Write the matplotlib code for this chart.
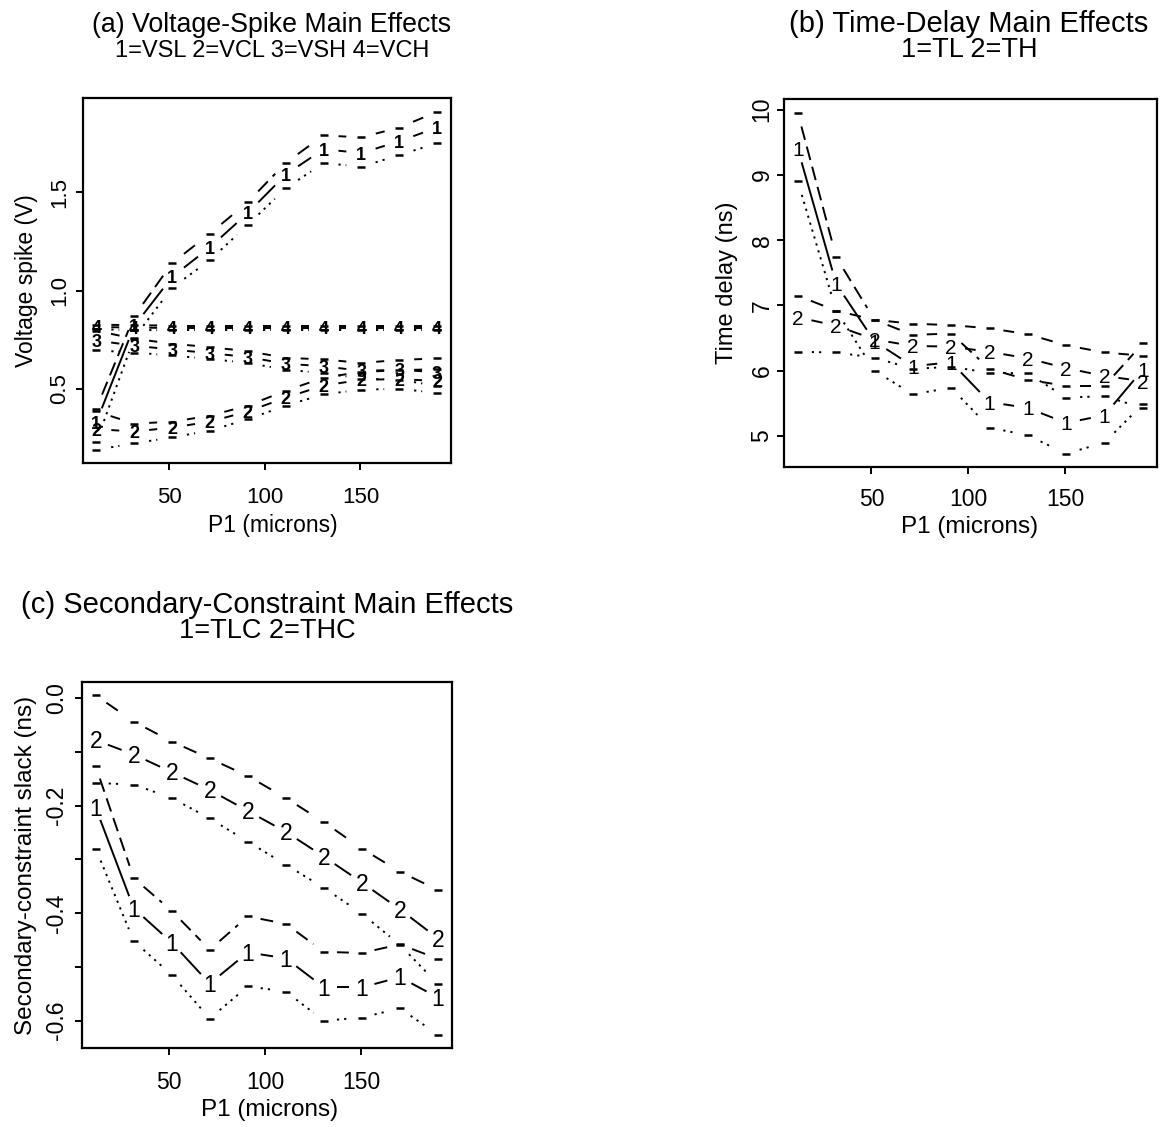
import numpy as np
import matplotlib
matplotlib.use("Agg")
import matplotlib.pyplot as plt
from matplotlib.transforms import ScaledTranslation

plt.rcParams['font.family'] = ['Liberation Sans', 'DejaVu Sans']
plt.rcParams['axes.unicode_minus'] = False
plt.rcParams['lines.scale_dashes'] = False

W, H = 1168, 1127

# P1 levels (microns)
p1 = [12, 31.8, 51.6, 71.3, 91.1, 110.9, 130.7, 150.4, 170.2, 190]

# (a) voltage spike (V): mean, upper and lower limits
vsl = [0.33, 0.82, 1.07, 1.22, 1.395, 1.59, 1.72, 1.70, 1.76, 1.83]
vsl_hi = [0.40, 0.87, 1.14, 1.29, 1.45, 1.65, 1.79, 1.78, 1.83, 1.91]
vsl_lo = [0.23, 0.76, 1.015, 1.155, 1.335, 1.52, 1.65, 1.63, 1.69, 1.75]

vcl = [0.295, 0.283, 0.303, 0.333, 0.385, 0.455, 0.517, 0.546, 0.55, 0.54]
vcl_hi = [0.385, 0.323, 0.333, 0.363, 0.415, 0.49, 0.557, 0.586, 0.595, 0.60]
vcl_lo = [0.19, 0.223, 0.253, 0.288, 0.345, 0.415, 0.472, 0.496, 0.50, 0.48]

vsh = [0.746, 0.72, 0.70, 0.682, 0.662, 0.628, 0.615, 0.592, 0.597, 0.585]
vsh_hi = [0.796, 0.755, 0.73, 0.712, 0.692, 0.658, 0.65, 0.632, 0.647, 0.655]
vsh_lo = [0.696, 0.685, 0.67, 0.652, 0.632, 0.598, 0.58, 0.552, 0.547, 0.515]

vch = [0.815, 0.812, 0.81, 0.81, 0.81, 0.81, 0.81, 0.81, 0.81, 0.81]
vch_hi = [0.827, 0.824, 0.822, 0.822, 0.822, 0.822, 0.822, 0.822, 0.822, 0.822]
vch_lo = [0.803, 0.80, 0.798, 0.798, 0.798, 0.798, 0.798, 0.798, 0.798, 0.798]

# (b) time delay (ns)
tl = [9.40, 7.33, 6.45, 6.07, 6.13, 5.52, 5.43, 5.20, 5.32, 6.02]
tl_hi = [9.95, 7.74, 6.78, 6.55, 6.57, 6.03, 5.86, 5.77, 5.77, 6.42]
tl_lo = [8.90, 6.92, 6.00, 5.64, 5.74, 5.13, 5.01, 4.73, 4.90, 5.49]

th = [6.82, 6.69, 6.48, 6.38, 6.37, 6.29, 6.19, 6.04, 5.92, 5.84]
th_hi = [7.15, 6.92, 6.78, 6.72, 6.70, 6.65, 6.56, 6.39, 6.28, 6.23]
th_lo = [6.29, 6.28, 6.20, 6.03, 6.06, 5.97, 5.96, 5.59, 5.61, 5.43]

# (c) secondary-constraint slack (ns)
tlc = [-0.204, -0.391, -0.455, -0.531, -0.473, -0.484, -0.538, -0.538, -0.519, -0.557]
tlc_hi = [-0.127, -0.335, -0.396, -0.468, -0.406, -0.42, -0.472, -0.474, -0.458, -0.485]
tlc_lo = [-0.28, -0.452, -0.515, -0.596, -0.536, -0.546, -0.60, -0.594, -0.577, -0.626]

thc = [-0.0785, -0.105, -0.138, -0.171, -0.21, -0.249, -0.295, -0.343, -0.393, -0.447]
thc_hi = [0.005, -0.044, -0.081, -0.1125, -0.145, -0.186, -0.231, -0.280, -0.323, -0.357]
thc_lo = [-0.158, -0.161, -0.186, -0.224, -0.267, -0.31, -0.353, -0.401, -0.459, -0.532]

xticks = [50, 100, 150]
a_yticks = [0.5, 1.0, 1.5]
a_ylabels = ['0.5', '1.0', '1.5']
b_yticks = [5, 6, 7, 8, 9, 10]
b_ylabels = ['5', '6', '7', '8', '9', '10']
c_yticks = [0.0, -0.1, -0.2, -0.3, -0.4, -0.5, -0.6]
c_ylabels = ['0.0', '', '-0.2', '', '-0.4', '', '-0.6']

fig = plt.figure(figsize=(W / 100, H / 100), dpi=100)

DASHED = (0, (10, 5))
DOTTED = (0, (1.6, 3.6))


def px_axes(left, top, right, bottom):
    return fig.add_axes([left / W, 1 - bottom / H, (right - left) / W, (bottom - top) / H])


def padded(*series):
    vals = np.concatenate([np.asarray(s, float) for s in series])
    lo, hi = vals.min(), vals.max()
    pad = 0.04 * (hi - lo)
    return lo - pad, hi + pad


def gapped_line(ax, x, y, gap, ls, lw=1.4):
    """Join points with segments that stop short of each point."""
    pts = ax.transData.transform(np.column_stack([x, y]))
    inv = ax.transData.inverted()
    for p, q in zip(pts[:-1], pts[1:]):
        d = np.hypot(*(q - p))
        f = gap / d
        if f < 0.5:
            a = p + f * (q - p)
            b = q - f * (q - p)
            seg = inv.transform(np.vstack([a, b]))
            ax.plot(seg[:, 0], seg[:, 1], color='black', lw=lw, linestyle=ls,
                    solid_capstyle='butt', dash_capstyle='butt')


def char_marks(ax, x, y, ch, size, weight='normal'):
    off = ScaledTranslation(0, -0.358 * size / 72, fig.dpi_scale_trans)
    for xi, yi in zip(x, y):
        ax.text(xi, yi, ch, fontsize=size, fontweight=weight, ha='center',
                va='baseline', transform=ax.transData + off, clip_on=False)


def effect(ax, mean, hi, lo, ch, size, gap, weight='normal'):
    gapped_line(ax, p1, hi, gap, DASHED)
    ax.plot(p1, hi, linestyle='none', marker='_', ms=5.4, mew=1.8, color='black')
    gapped_line(ax, p1, lo, gap, DOTTED)
    ax.plot(p1, lo, linestyle='none', marker='_', ms=5.4, mew=1.8, color='black')
    gapped_line(ax, p1, mean, gap, '-')
    char_marks(ax, p1, mean, ch, size, weight)


def frame(ax, ylim, yticks, ylabels, tsize, xpad, ypad):
    ax.set_xlim(padded(p1))
    ax.set_ylim(ylim)
    ax.set_xticks(xticks)
    ax.set_xticklabels([str(t) for t in xticks])
    ax.set_yticks(yticks)
    ax.set_yticklabels(ylabels, rotation=90, va='center')
    ax.tick_params(direction='out', length=5, width=1.4, labelsize=tsize)
    ax.tick_params(axis='x', pad=xpad)
    ax.tick_params(axis='y', pad=ypad)
    for s in ax.spines.values():
        s.set_linewidth(1.6)


def ftext(xp, yp, s, size, **kw):
    fig.text(xp / W, 1 - yp / H, s, fontsize=size, **kw)


# ---- (a) ----
axA = px_axes(82.7, 98.3, 450.7, 463.3)
frame(axA, padded(vsl_hi, vsl_lo, vcl_hi, vcl_lo, vsh_hi, vsh_lo, vch_hi, vch_lo),
      a_yticks, a_ylabels, 16, 12, 4)
for m, hi, lo, ch in [(vcl, vcl_hi, vcl_lo, '2'), (vsh, vsh_hi, vsh_lo, '3'),
                      (vch, vch_hi, vch_lo, '4'), (vsl, vsl_hi, vsl_lo, '1')]:
    effect(axA, m, hi, lo, ch, 13, 15, weight='bold')
ftext(272, 31.7, '(a) Voltage-Spike Main Effects', 19.3, ha='center', va='baseline')
ftext(272, 56.7, '1=VSL 2=VCL 3=VSH 4=VCH', 17, ha='center', va='baseline')
ftext(273, 526, 'P1 (microns)', 16.5, ha='center', va='center')
ftext(27, 281, 'Voltage spike (V)', 16.5, ha='center', va='center', rotation=90)

# ---- (b) ----
axB = px_axes(784, 99.3, 1156.7, 467.3)
frame(axB, padded(tl_hi, tl_lo, th_hi, th_lo), b_yticks, b_ylabels, 16.5, 10, 2.5)
effect(axB, th, th_hi, th_lo, '2', 15, 14)
effect(axB, tl, tl_hi, tl_lo, '1', 15, 14)
ftext(969, 32, '(b) Time-Delay Main Effects', 21, ha='center', va='baseline')
ftext(969, 57, '1=TL 2=TH', 19.5, ha='center', va='baseline')
ftext(970, 527, 'P1 (microns)', 17.5, ha='center', va='center')
ftext(727, 283, 'Time delay (ns)', 17, ha='center', va='center', rotation=90)

# ---- (c) ----
axC = px_axes(82, 681.7, 451.7, 1048.3)
frame(axC, padded(tlc_hi, tlc_lo, thc_hi, thc_lo), c_yticks, c_ylabels, 16.5, 11, 5)
effect(axC, thc, thc_hi, thc_lo, '2', 16.5, 13)
effect(axC, tlc, tlc_hi, tlc_lo, '1', 16.5, 13)
ftext(267, 613.3, '(c) Secondary-Constraint Main Effects', 21, ha='center', va='baseline')
ftext(267, 638.3, '1=TLC 2=THC', 19.5, ha='center', va='baseline')
ftext(270, 1110, 'P1 (microns)', 17.5, ha='center', va='center')
ftext(26, 865, 'Secondary-constraint slack (ns)', 17.5, ha='center', va='center', rotation=90)

fig.savefig('out.png', dpi=100)
